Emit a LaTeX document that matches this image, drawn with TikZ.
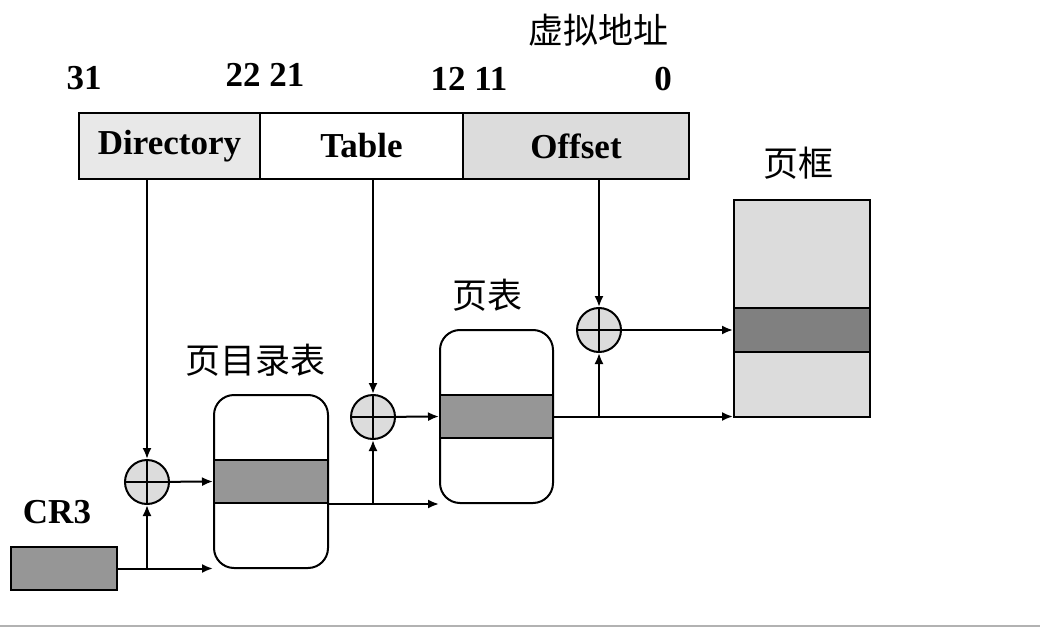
\documentclass[tikz,border=0pt]{standalone}
\usepackage{fontspec}
\setmainfont{Liberation Serif}
\newfontfamily\cjk{Noto Sans CJK SC}
\usepackage{tikz}
\usetikzlibrary{arrows.meta, shapes, calc, positioning}
\usepackage{xcolor}
\definecolor{dirgray}{HTML}{E8E8E8}
\definecolor{offgray}{HTML}{DCDCDC}
\definecolor{entrygray}{HTML}{969696}
\definecolor{framegray}{HTML}{DCDCDC}
\definecolor{frameentry}{HTML}{808080}

\begin{document}
\begin{tikzpicture}[x=1pt, y=-1pt, line width=2pt,
    field/.style={draw, minimum height=66pt, inner sep=0pt, font=\fontsize{35}{40}\selectfont\bfseries},
    tablebox/.style={draw, rounded corners=20pt, minimum width=114pt, minimum height=173pt, inner sep=0pt},
    entry/.style={draw, fill=entrygray, minimum width=114pt, minimum height=43pt, inner sep=0pt},
    adder/.style={circle, draw, fill=offgray, minimum size=44pt, inner sep=0pt,
      path picture={\draw (path picture bounding box.north) -- (path picture bounding box.south)
        (path picture bounding box.west) -- (path picture bounding box.east);}},
    arr/.style={-{Latex[length=11pt, width=9pt]}},
    bits/.style={font=\fontsize{35}{40}\selectfont\bfseries},
    cn/.style={font=\fontsize{35}{40}\selectfont\cjk}]
  \useasboundingbox (0,0) rectangle (1040,628);

  % virtual address
  \node[cn] (vaddr) at (598,30) {虚拟地址};
  \node[bits] (b31) at (84,78) {31};
  \node[bits] (b22) at (265,75) {22 21};
  \node[bits] (b12) at (469,79) {12 11};
  \node[bits] (b0) at (663,79) {0};
  \node[field, fill=dirgray, minimum width=181pt] (dir) at (169.5,146) {Directory};
  \node[field, fill=white, minimum width=203pt] (tab) at (361.5,146) {Table};
  \node[field, fill=offgray, minimum width=226pt] (off) at (576,146) {Offset};

  % CR3
  \node[bits] (cr3lbl) at (57,512) {CR3};
  \node[draw, fill=entrygray, minimum width=106pt, minimum height=43pt, inner sep=0pt] (cr3) at (64,568.5) {};

  % page directory
  \node[cn] (pdirlbl) at (255,360) {页目录表};
  \node[tablebox] (pdir) at (271,481.5) {};
  \node[entry] (pdirent) at (271,481.5) {};

  % page table
  \node[cn] (ptablbl) at (487,295) {页表};
  \node[tablebox, minimum width=113pt] (ptab) at (496.5,416.5) {};
  \node[entry, minimum width=113pt] (ptabent) at (496.5,416.5) {};

  % page frame
  \node[cn] (pframelbl) at (798,163) {页框};
  \node[draw, fill=framegray, minimum width=136pt, minimum height=217pt, inner sep=0pt] (pframe) at (802,308.5) {};
  \node[draw, fill=frameentry, minimum width=136pt, minimum height=44pt, inner sep=0pt] (pfent) at (802,330) {};

  % adders
  \node[adder] (p1) at (147,482) {};
  \node[adder] (p2) at (373,417) {};
  \node[adder] (p3) at (599,330) {};

  % connectors
  \draw[arr] (cr3.east) -- (cr3.east -| pdir.west);
  \draw[arr] (cr3.east -| p1) -- (p1);
  \draw[arr] (dir.south -| p1) -- (p1);
  \draw[arr] (p1) -- (pdirent.west);
  \draw[arr] (pdirent.south east) -- (pdirent.south east -| ptab.west);
  \draw[arr] (pdirent.south east -| p2) -- (p2);
  \draw[arr] (tab.south -| p2) -- (p2);
  \draw[arr] (p2) -- (ptabent.west);
  \draw[arr] (ptabent.east) -- (ptabent.east -| pframe.west);
  \draw[arr] (ptabent.east -| p3) -- (p3);
  \draw[arr] (off.south -| p3) -- (p3);
  \draw[arr] (p3) -- (pfent.west);

  % bottom rule
  \draw[gray!60, line width=2pt] (0,626) -- (1040,626);
\end{tikzpicture}
\end{document}
